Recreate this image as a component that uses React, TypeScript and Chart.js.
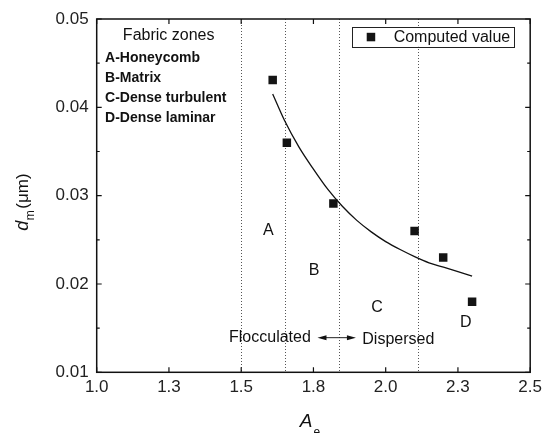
import React, { useEffect, useRef } from "react";
import { Chart, registerables } from "chart.js";

Chart.register(...registerables);

// Computed particle diameter d_m against activity A_e
const aeValues = [1.609, 1.658, 1.819, 2.1, 2.199, 2.299];
const dmValues = [0.0431, 0.036, 0.0291, 0.026, 0.023, 0.018];

// Fitted trend curve
const fitAe = [1.609, 1.65, 1.7, 1.75, 1.8, 1.85, 1.9, 1.95, 2.0, 2.05, 2.1, 2.15, 2.2, 2.25, 2.299];
const fitDm = [0.0415, 0.0385, 0.0355, 0.033, 0.0307, 0.0288, 0.0272, 0.0259, 0.0248, 0.0239, 0.0231, 0.0224, 0.0219, 0.0214, 0.0209];

// Fabric zone boundaries (dotted verticals)
const zoneBoundaries = [1.5, 1.653, 1.839, 2.112];

const zoneTitle = "Fabric zones";
const zoneNames = ["A-Honeycomb", "B-Matrix", "C-Dense turbulent", "D-Dense laminar"];
const zoneLetters = ["A", "B", "C", "D"];
const zoneLetterAe = [1.594, 1.752, 1.97, 2.277];
const zoneLetterDm = [0.0261, 0.0215, 0.0173, 0.0156];

const seriesLabel = "Computed value";
const FONT = "'Liberation Sans', Arial, sans-serif";

const overlay = {
  id: "overlay",
  beforeDatasetsDraw(chart: any) {
    const { ctx, chartArea: a, scales } = chart;
    const x = scales.x;
    ctx.save();
    ctx.strokeStyle = "#555";
    ctx.lineWidth = 1;
    ctx.setLineDash([1, 2]);
    for (const b of zoneBoundaries) {
      const px = Math.round(x.getPixelForValue(b)) + 0.5;
      ctx.beginPath();
      ctx.moveTo(px, a.top);
      ctx.lineTo(px, a.bottom);
      ctx.stroke();
    }
    ctx.restore();
  },
  afterDatasetsDraw(chart: any) {
    const { ctx, chartArea: a, scales } = chart;
    const x = scales.x;
    const y = scales.y;
    ctx.save();

    // frame
    ctx.strokeStyle = "#111";
    ctx.lineWidth = 1.5;
    ctx.strokeRect(a.left, a.top, a.right - a.left, a.bottom - a.top);

    // inward ticks
    ctx.lineWidth = 1.2;
    ctx.beginPath();
    for (let v = 1.0; v <= 2.5001; v += 0.25) {
      const px = x.getPixelForValue(v);
      ctx.moveTo(px, a.bottom);
      ctx.lineTo(px, a.bottom - 5);
      ctx.moveTo(px, a.top);
      ctx.lineTo(px, a.top + 5);
    }
    for (let i = 0; i <= 8; i++) {
      const v = 0.01 + i * 0.005;
      const len = i % 2 === 0 ? 5 : 3;
      const py = y.getPixelForValue(v);
      ctx.moveTo(a.left, py);
      ctx.lineTo(a.left + len, py);
      ctx.moveTo(a.right, py);
      ctx.lineTo(a.right - len, py);
    }
    ctx.stroke();

    // zone key
    ctx.fillStyle = "#111";
    ctx.textBaseline = "middle";
    ctx.textAlign = "center";
    ctx.font = `16px ${FONT}`;
    ctx.fillText(zoneTitle, x.getPixelForValue(1.249), y.getPixelForValue(0.04808));
    ctx.textAlign = "left";
    ctx.font = `bold 14px ${FONT}`;
    const keyTop = y.getPixelForValue(0.04562);
    zoneNames.forEach((n, i) => {
      ctx.fillText(n, x.getPixelForValue(1.029), keyTop + i * 20);
    });

    // zone letters
    ctx.font = `16px ${FONT}`;
    ctx.textAlign = "center";
    zoneLetters.forEach((l, i) => {
      ctx.fillText(l, x.getPixelForValue(zoneLetterAe[i]), y.getPixelForValue(zoneLetterDm[i]));
    });

    // flocculated / dispersed
    const arrowY = y.getPixelForValue(0.01392);
    ctx.textAlign = "right";
    ctx.fillText("Flocculated", x.getPixelForValue(1.741), arrowY);
    ctx.textAlign = "left";
    ctx.fillText("Dispersed", x.getPixelForValue(1.919), arrowY + 1.5);
    const ax0 = x.getPixelForValue(1.764);
    const ax1 = x.getPixelForValue(1.897);
    ctx.strokeStyle = "#222";
    ctx.lineWidth = 1;
    ctx.beginPath();
    ctx.moveTo(ax0 + 4, arrowY);
    ctx.lineTo(ax1 - 4, arrowY);
    ctx.stroke();
    ctx.beginPath();
    ctx.moveTo(ax0, arrowY);
    ctx.lineTo(ax0 + 9, arrowY - 2.5);
    ctx.lineTo(ax0 + 9, arrowY + 2.5);
    ctx.closePath();
    ctx.moveTo(ax1, arrowY);
    ctx.lineTo(ax1 - 9, arrowY - 2.5);
    ctx.lineTo(ax1 - 9, arrowY + 2.5);
    ctx.closePath();
    ctx.fill();

    // legend box
    ctx.font = `16px ${FONT}`;
    const tw = ctx.measureText(seriesLabel).width;
    const bw = 42 + tw + 3;
    const bh = 19.5;
    const bx = a.right - 16.7 - bw;
    const by = a.top + 8.3;
    ctx.fillStyle = "#fff";
    ctx.fillRect(bx, by, bw, bh);
    ctx.strokeStyle = "#222";
    ctx.lineWidth = 1;
    ctx.strokeRect(Math.round(bx) + 0.5, Math.round(by) + 0.5, Math.round(bw), Math.round(bh));
    ctx.fillStyle = "#141414";
    ctx.fillRect(bx + 19 - 4.25, by + bh / 2 - 4.25, 8.5, 8.5);
    ctx.fillStyle = "#111";
    ctx.textAlign = "left";
    ctx.fillText(seriesLabel, bx + 41.7, by + bh / 2 + 1);

    ctx.restore();
  },
  afterDraw(chart: any) {
    const { ctx, chartArea: a } = chart;
    ctx.save();
    ctx.fillStyle = "#111";
    ctx.textBaseline = "alphabetic";
    ctx.textAlign = "left";

    // x title: A_e
    ctx.font = `italic 19px ${FONT}`;
    const wA = ctx.measureText("A").width;
    ctx.font = `12px ${FONT}`;
    const we = ctx.measureText("e").width;
    const cx = (a.left + a.right) / 2 - 4;
    const x0 = cx - (wA + we) / 2;
    ctx.font = `italic 19px ${FONT}`;
    ctx.fillText("A", x0, 427);
    ctx.font = `12px ${FONT}`;
    ctx.fillText("e", x0 + wA + 1, 436);

    // y title: d_m (μm)
    ctx.translate(28, 202);
    ctx.rotate(-Math.PI / 2);
    ctx.font = `italic 18px ${FONT}`;
    const wd = ctx.measureText("d").width;
    ctx.font = `12px ${FONT}`;
    const wm = ctx.measureText("m").width;
    ctx.font = `17px ${FONT}`;
    const wu = ctx.measureText("(μm)").width;
    const total = wd + wm + 2 + wu;
    let tx = -total / 2;
    ctx.font = `italic 18px ${FONT}`;
    ctx.fillText("d", tx, 0);
    tx += wd + 0.5;
    ctx.font = `12px ${FONT}`;
    ctx.fillText("m", tx, 6);
    tx += wm + 1.5;
    ctx.font = `17px ${FONT}`;
    ctx.fillText("(μm)", tx, 0);
    ctx.restore();
  },
};

export default function App() {
  const ref = useRef<HTMLCanvasElement>(null);

  useEffect(() => {
    if (!ref.current) return;
    const chart = new Chart(ref.current, {
      type: "scatter",
      data: {
        datasets: [
          {
            label: "Fit",
            data: fitAe.map((v, i) => ({ x: v, y: fitDm[i] })),
            showLine: true,
            borderColor: "#111",
            borderWidth: 1.3,
            pointRadius: 0,
            cubicInterpolationMode: "monotone",
          },
          {
            label: seriesLabel,
            data: aeValues.map((v, i) => ({ x: v, y: dmValues[i] })),
            pointStyle: "rect",
            pointRadius: 6,
            backgroundColor: "#141414",
            borderColor: "#141414",
            borderWidth: 0,
          },
        ],
      },
      options: {
        animation: false,
        responsive: false,
        events: [],
        layout: { padding: { left: 0, top: 19, right: 15.3, bottom: 0 } },
        plugins: { legend: { display: false }, tooltip: { enabled: false } },
        scales: {
          x: {
            type: "linear",
            min: 1,
            max: 2.5,
            grid: { display: false, drawTicks: false },
            border: { display: false },
            ticks: {
              stepSize: 0.25,
              padding: 5,
              color: "#222",
              font: { family: FONT, size: 17 },
              maxRotation: 0,
              autoSkip: false,
              callback: (v: any) => Number(v).toFixed(1),
            },
            afterFit: (s: any) => {
              s.height = 60.7;
            },
          },
          y: {
            type: "linear",
            min: 0.01,
            max: 0.05,
            grid: { display: false, drawTicks: false },
            border: { display: false },
            ticks: {
              stepSize: 0.01,
              padding: 8,
              color: "#222",
              font: { family: FONT, size: 17 },
              callback: (v: any) => Number(v).toFixed(2),
            },
            afterFit: (s: any) => {
              s.width = 96.7;
            },
          },
        },
      },
      plugins: [overlay],
    });
    return () => chart.destroy();
  }, []);

  return (
    <div style={{ position: "absolute", left: 0, top: 0, width: 547, height: 433, background: "#fff" }}>
      <canvas ref={ref} width={547} height={433} />
    </div>
  );
}
